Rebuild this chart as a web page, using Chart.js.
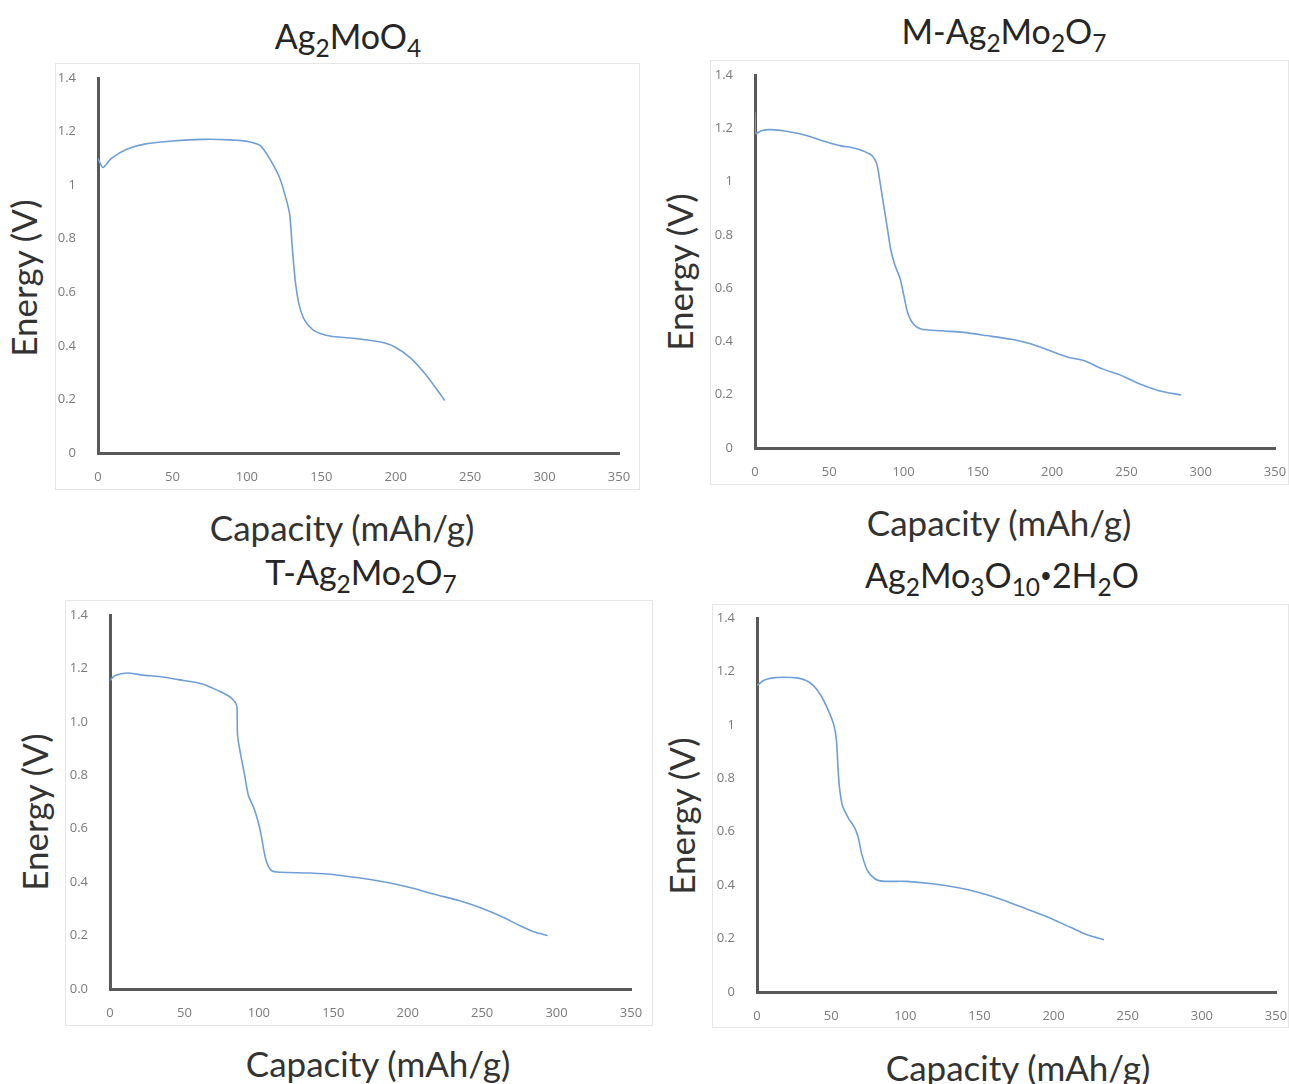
<!DOCTYPE html>
<html>
<head>
<meta charset="utf-8">
<script src="https://cdn.jsdelivr.net/npm/chart.js@4/dist/chart.umd.min.js"></script>
<style>
  html, body { margin: 0; padding: 0; background: #ffffff; }
  body { width: 1289px; height: 1084px; position: relative; overflow: hidden; font-family: Lato, "Open Sans", sans-serif; }
  .frame { position: absolute; border: 1px solid #e6e6e6; box-sizing: border-box; background: #fff; }
  .frame canvas { position: absolute; left: 0; top: 0; }
  .title { position: absolute; transform: translate(-50%, -50%); font-size: 34px; color: #262626; white-space: nowrap; line-height: 1; }
  .title sub { font-size: 72%; position: relative; top: 0.32em; vertical-align: baseline; line-height: 0; }
  .title .dot { font-size: 60%; position: relative; top: -0.25em; }
  .xt { position: absolute; transform: translate(-50%, -50%); font-size: 35px; color: #333333; white-space: nowrap; line-height: 1; }
  .yt { position: absolute; transform: translate(-50%, -50%) rotate(-90deg); font-size: 35px; color: #333333; white-space: nowrap; line-height: 1; }
</style>
</head>
<body>

<script>
// ---------------- DATA ----------------
const xTickLabels = ["0", "50", "100", "150", "200", "250", "300", "350"];
const yTickLabelsA = ["0", "0.2", "0.4", "0.6", "0.8", "1", "1.2", "1.4"];
const yTickLabelsB = ["0.0", "0.2", "0.4", "0.6", "0.8", "1.0", "1.2", "1.4"];

const titleText1 = "Ag<sub>2</sub>MoO<sub>4</sub>";
const titleText2 = "M-Ag<sub>2</sub>Mo<sub>2</sub>O<sub>7</sub>";
const titleText3 = "T-Ag<sub>2</sub>Mo<sub>2</sub>O<sub>7</sub>";
const titleText4 = "Ag<sub>2</sub>Mo<sub>3</sub>O<sub>10</sub><span class=\"dot\">•</span>2H<sub>2</sub>O";
const xAxisTitle = "Capacity (mAh/g)";
const yAxisTitle = "Energy (V)";

// Ag2MoO4
const cap1  = [0, 3.3, 9, 19.3, 32, 50, 70.8, 88.8, 101.6, 109.4, 115.8, 122.2, 126, 128.7, 130.5, 132.5, 135, 139, 145.4, 155.7, 173.7, 189, 199.4, 209.7, 220, 227.7, 232.9];
const volt1 = [1.10, 1.066, 1.10, 1.134, 1.154, 1.165, 1.171, 1.169, 1.162, 1.146, 1.094, 1.025, 0.956, 0.894, 0.769, 0.644, 0.556, 0.494, 0.456, 0.437, 0.427, 0.415, 0.396, 0.356, 0.294, 0.237, 0.196];

// M-Ag2Mo2O7
const cap2  = [0, 0.3, 4.3, 10.6, 22, 34.6, 47.2, 58.5, 64.8, 72.4, 78.7, 82, 83.8, 86.3, 88.8, 91.3, 93.9, 97.7, 100.2, 102.7, 106.5, 111.5, 125.4, 140.5, 155.7, 173.4, 186, 198.6, 211.2, 221.3, 233.9, 246.5, 259.1, 271.8, 286.9];
const volt2 = [1.26, 1.18, 1.191, 1.195, 1.188, 1.173, 1.150, 1.133, 1.128, 1.116, 1.098, 1.066, 1.010, 0.922, 0.835, 0.747, 0.691, 0.635, 0.572, 0.509, 0.466, 0.447, 0.440, 0.434, 0.422, 0.407, 0.390, 0.365, 0.340, 0.328, 0.297, 0.272, 0.240, 0.215, 0.199];

// T-Ag2Mo2O7
const cap3  = [0, 3.1, 12, 21, 36.5, 49.3, 62.2, 72.5, 80.2, 84, 85.3, 85.7, 87.9, 90.5, 93, 96.9, 100.2, 102, 104.6, 108.5, 114.9, 134.2, 152.1, 172.7, 188.1, 203.5, 219, 234.4, 249.8, 262.6, 275.5, 285.8, 294];
const volt3 = [1.155, 1.173, 1.183, 1.176, 1.167, 1.155, 1.142, 1.117, 1.095, 1.074, 1.055, 0.949, 0.874, 0.799, 0.724, 0.674, 0.612, 0.562, 0.487, 0.443, 0.437, 0.434, 0.427, 0.412, 0.397, 0.377, 0.353, 0.331, 0.302, 0.272, 0.237, 0.212, 0.200];

// Ag2Mo3O10·2H2O
const cap4  = [0, 4.3, 10.5, 18, 26.8, 33.1, 38.1, 43.1, 48.1, 51.9, 53.6, 54.6, 55.6, 57.6, 61.9, 65.6, 68.2, 70.6, 74.4, 79.4, 84.4, 100.7, 118.3, 135.8, 148.3, 163.4, 178.4, 195.9, 211, 223.5, 234];
const volt4 = [1.147, 1.166, 1.176, 1.178, 1.176, 1.166, 1.147, 1.110, 1.054, 0.998, 0.941, 0.842, 0.767, 0.698, 0.648, 0.617, 0.580, 0.517, 0.455, 0.424, 0.415, 0.414, 0.405, 0.390, 0.374, 0.349, 0.318, 0.281, 0.243, 0.212, 0.196];

// ---------------- LAYOUT ----------------
const panels = [
  { frame: [55, 63, 585, 427],  ax: { x0: 97,  x1: 618,  y0: 452, y1: 77  }, cap: cap1, volt: volt1, yLabels: yTickLabelsA,
    title: titleText1, titlePos: [348, 36], xtPos: [342, 527], ytPos: [23, 278] },
  { frame: [710, 60, 579, 425], ax: { x0: 754, x1: 1274, y0: 447, y1: 74  }, cap: cap2, volt: volt2, yLabels: yTickLabelsA,
    title: titleText2, titlePos: [1004, 31], xtPos: [999, 522], ytPos: [679, 272] },
  { frame: [65, 600, 588, 426], ax: { x0: 109, x1: 630,  y0: 988, y1: 614 }, cap: cap3, volt: volt3, yLabels: yTickLabelsB,
    title: titleText3, titlePos: [361, 572], xtPos: [378, 1063], ytPos: [34, 812] },
  { frame: [712, 604, 577, 424], ax: { x0: 756, x1: 1275, y0: 991, y1: 617 }, cap: cap4, volt: volt4, yLabels: yTickLabelsA,
    title: titleText4, titlePos: [1002, 575], xtPos: [1018, 1067], ytPos: [681, 816] }
];

function addText(cls, html, pos) {
  const d = document.createElement('div');
  d.className = cls;
  d.innerHTML = html;
  d.style.left = pos[0] + 'px';
  d.style.top = pos[1] + 'px';
  document.body.appendChild(d);
}

panels.forEach((p) => {
  const [fl, ft, fw, fh] = p.frame;
  const box = document.createElement('div');
  box.className = 'frame';
  box.style.left = fl + 'px';
  box.style.top = ft + 'px';
  box.style.width = fw + 'px';
  box.style.height = fh + 'px';
  const cv = document.createElement('canvas');
  cv.width = fw; cv.height = fh;
  cv.style.width = fw + 'px'; cv.style.height = fh + 'px';
  box.appendChild(cv);
  document.body.appendChild(box);

  addText('title', p.title, p.titlePos);
  addText('xt', xAxisTitle, p.xtPos);
  addText('yt', yAxisTitle, p.ytPos);

  const leftW = p.ax.x0 - fl;
  const bottomH = (ft + fh) - p.ax.y0;
  const padTop = p.ax.y1 - ft;
  const padRight = (fl + fw) - p.ax.x1;

  const pts = p.cap.map((c, i) => ({ x: c, y: p.volt[i] }));

  new Chart(cv, {
    type: 'line',
    data: {
      datasets: [{
        data: pts,
        borderColor: '#6f9fd9',
        borderWidth: 1.6,
        pointRadius: 0,
        tension: 0.25,
        fill: false
      }]
    },
    options: {
      responsive: false,
      animation: false,
      devicePixelRatio: 1,
      layout: { padding: { left: 0, top: padTop, right: padRight, bottom: 0 } },
      plugins: { legend: { display: false }, tooltip: { enabled: false }, title: { display: false } },
      scales: {
        x: {
          type: 'linear', min: 0, max: 350,
          grid: { display: false },
          border: { display: true, color: '#595959', width: 3 },
          ticks: {
            stepSize: 50, padding: 8, maxRotation: 0, autoSkip: false,
            color: '#7a7a7a', font: { family: 'Open Sans', size: 13 },
            callback: (v, i) => xTickLabels[i]
          },
          afterFit: (s) => { s.height = bottomH; s.paddingLeft = 0; s.paddingRight = 0; }
        },
        y: {
          type: 'linear', min: 0, max: 1.4,
          grid: { display: false },
          border: { display: true, color: '#595959', width: 3 },
          ticks: {
            stepSize: 0.2, padding: 14, autoSkip: false,
            color: '#7a7a7a', font: { family: 'Open Sans', size: 13 },
            callback: (v, i) => p.yLabels[i]
          },
          afterFit: (s) => { s.width = leftW; s.paddingTop = 0; s.paddingBottom = 0; }
        }
      }
    }
  });
});
</script>
</body>
</html>
